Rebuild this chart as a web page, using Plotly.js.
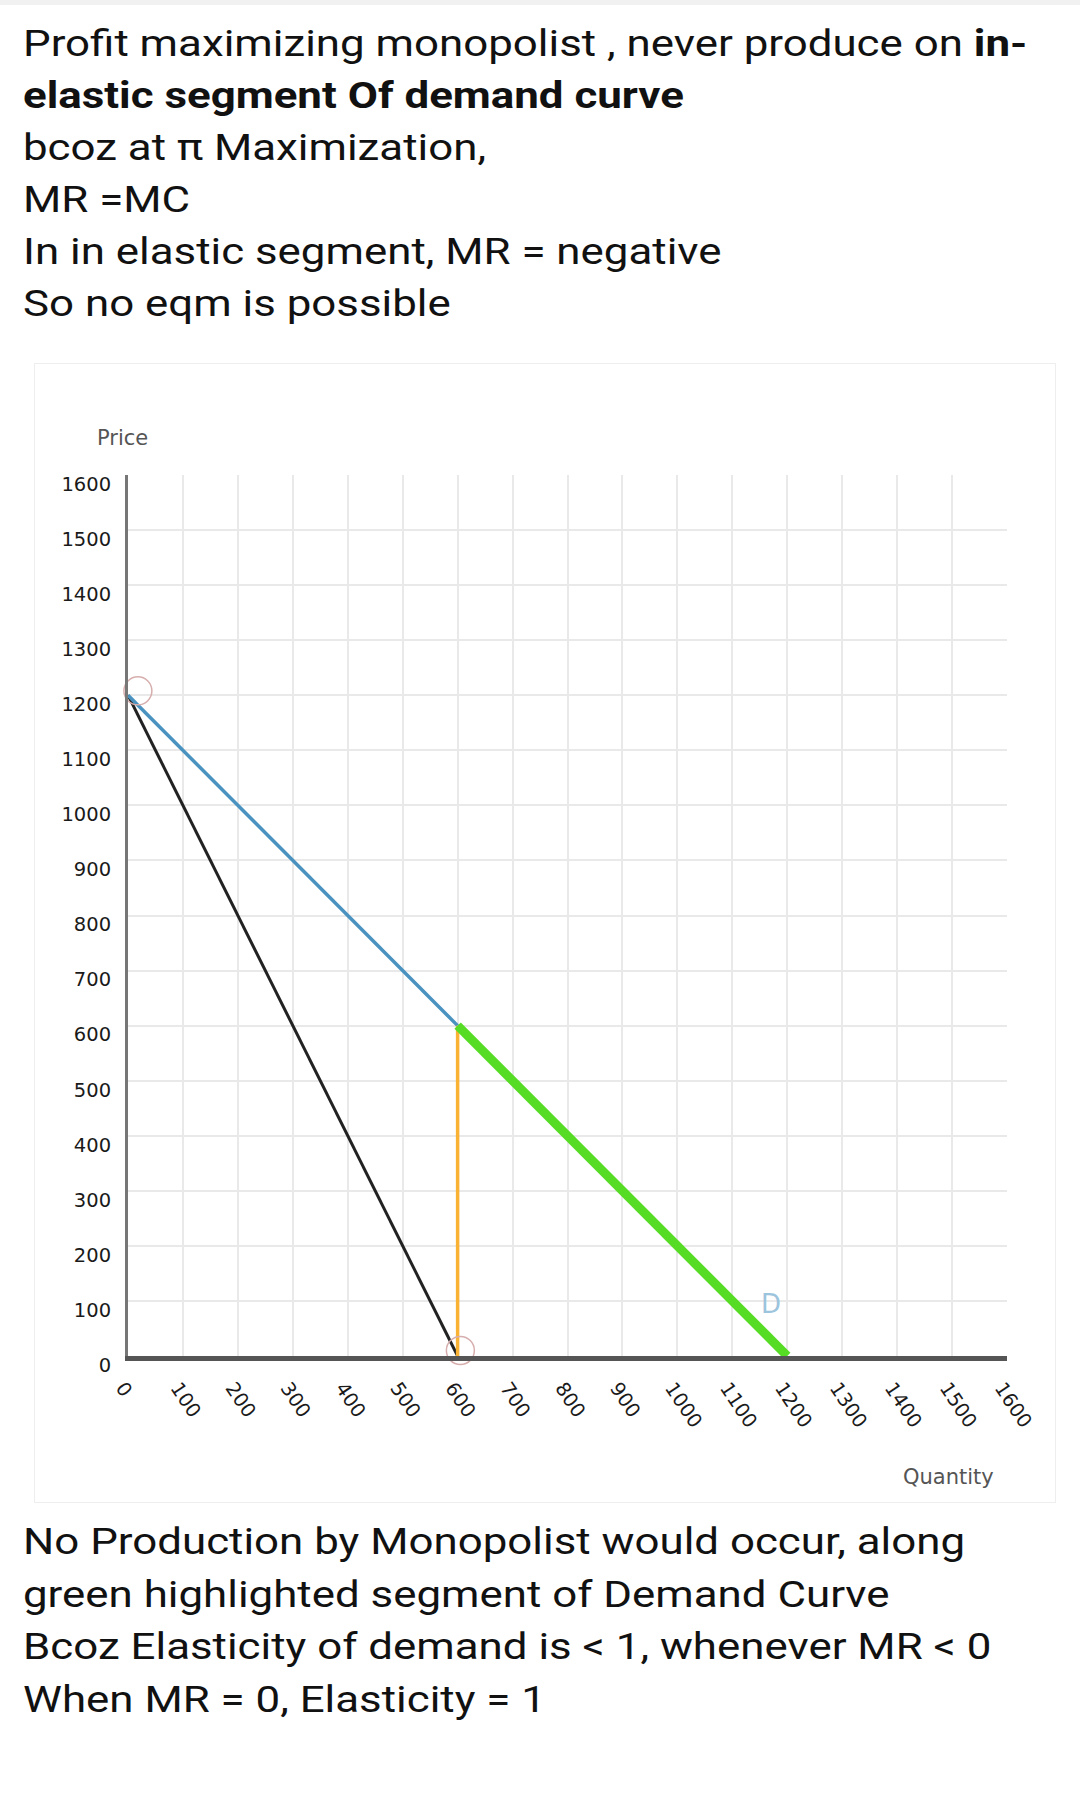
<!DOCTYPE html>
<html>
<head>
<meta charset="utf-8">
<script src="https://cdn.plot.ly/plotly-3.0.1.min.js"></script>
<style>
  html, body { margin: 0; padding: 0; background: #ffffff; width: 1080px; height: 1804px; overflow: hidden; }
  .topbar { position: absolute; left: 0; top: 0; width: 1080px; height: 5px; background: #f1f1f1; }
  .txt { position: absolute; left: 23px; font-family: Roboto, "Noto Sans", sans-serif; font-size: 37px; color: #111; line-height: 52px; white-space: nowrap; transform: scaleX(1.185); transform-origin: 0 0; }
  .txt b { font-weight: 700; }
  #panel { position: absolute; left: 34px; top: 363px; width: 1022px; height: 1140px; border: 1px solid #eeeeee; box-sizing: border-box; }
  #chart { width: 1020px; height: 1138px; }
</style>
</head>
<body>
<div class="topbar"></div>
<div class="txt" style="top:18px;">Profit maximizing monopolist , never produce on <b>in-</b><br><b>elastic segment Of demand curve</b><br>bcoz at π Maximization,<br>MR =MC<br>In in elastic segment, MR = negative<br>So no eqm is possible</div>
<div id="panel"><div id="chart"></div></div>
<div class="txt" style="top:1516px; line-height:52.6px;">No Production by Monopolist would occur, along<br>green highlighted segment of Demand Curve<br>Bcoz Elasticity of demand is &lt; 1, whenever MR &lt; 0<br>When MR = 0, Elasticity = 1</div>
<script>
// ---- data ----
const quantityTicks = [0, 100, 200, 300, 400, 500, 600, 700, 800, 900, 1000, 1100, 1200, 1300, 1400, 1500, 1600];
const priceTicks = [0, 100, 200, 300, 400, 500, 600, 700, 800, 900, 1000, 1100, 1200, 1300, 1400, 1500, 1600];

const demandQ = [0, 600];          // elastic part of demand (blue)
const demandP = [1200, 600];
const inelasticQ = [600, 1200];    // inelastic part of demand (green)
const inelasticP = [600, 0];
const mrQ = [0, 600];              // marginal revenue (black)
const mrP = [1200, 0];
const unitQ = [600, 600];          // vertical at unit elasticity (orange)
const unitP = [0, 600];
const circleQ = [18, 605];         // hollow point markers
const circleP = [1208, 10];
const demandLabel = ["D"];
const demandLabelQ = [1170];
const demandLabelP = [95];

const traces = [
  { x: mrQ, y: mrP, mode: 'lines', line: { color: '#222222', width: 3 }, hoverinfo: 'skip', cliponaxis: false },
  { x: demandQ, y: demandP, mode: 'lines', line: { color: '#4a92bf', width: 3.5 }, hoverinfo: 'skip', cliponaxis: false },
  { x: unitQ, y: unitP, mode: 'lines', line: { color: '#f9b233', width: 3.5 }, hoverinfo: 'skip', cliponaxis: false },
  { x: inelasticQ, y: inelasticP, mode: 'lines', line: { color: '#57dc26', width: 9 }, hoverinfo: 'skip', cliponaxis: false },
  { x: circleQ, y: circleP, mode: 'markers', marker: { symbol: 'circle-open', size: 28, color: '#d7aeae', line: { width: 1.5, color: '#d7aeae' } }, hoverinfo: 'skip', cliponaxis: false }
];

const tickFont = { family: 'DejaVu Sans, sans-serif', size: 19.5, color: '#1a1a1a' };

const layout = {
  width: 1020, height: 1138,
  margin: { l: 93, r: 48, t: 111, b: 146 },
  paper_bgcolor: '#ffffff', plot_bgcolor: '#ffffff',
  showlegend: false,
  font: { family: 'DejaVu Sans, sans-serif', color: '#222' },
  xaxis: {
    range: [0, 1600], tickmode: 'array', tickvals: quantityTicks, ticktext: quantityTicks.map(String),
    tickangle: 56, tickfont: tickFont, ticks: '', ticklabelstandoff: 8, ticklabelshift: -5,
    showgrid: true, gridcolor: '#e9e9e9', gridwidth: 2,
    showline: true, linecolor: '#555555', linewidth: 5, zeroline: false, fixedrange: true
  },
  yaxis: {
    range: [0, 1600], tickmode: 'array', tickvals: priceTicks, ticktext: priceTicks.map(String),
    tickfont: tickFont, ticks: '', ticklabelstandoff: 10, ticklabelshift: 9,
    showgrid: true, gridcolor: '#e9e9e9', gridwidth: 2,
    showline: true, linecolor: '#777777', linewidth: 3, zeroline: false, fixedrange: true
  },
  annotations: [
    { xref: 'paper', yref: 'paper', x: -0.006, y: 1.042, text: 'Price', showarrow: false,
      font: { size: 21, color: '#555555' }, xanchor: 'center', yanchor: 'middle' },
    { xref: 'paper', yref: 'paper', x: 0.934, y: -0.137, text: 'Quantity', showarrow: false,
      font: { size: 21, color: '#555555' }, xanchor: 'center', yanchor: 'middle' },
    { x: demandLabelQ[0], y: demandLabelP[0], text: demandLabel[0], showarrow: false,
      font: { size: 26, color: '#9cc4dd' }, xanchor: 'center', yanchor: 'middle' }
  ]
};

Plotly.newPlot('chart', traces, layout, { displayModeBar: false, staticPlot: true });
</script>
</body>
</html>
